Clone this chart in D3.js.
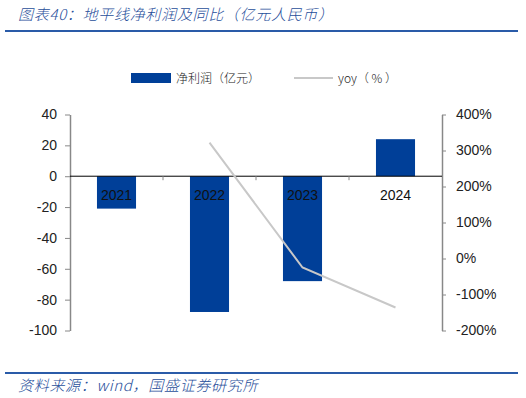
<!DOCTYPE html>
<html><head><meta charset="utf-8">
<script src="https://cdn.jsdelivr.net/npm/d3@7"></script>
<style>body{margin:0;background:#fff}svg{display:block}</style>
</head><body><svg id="c" width="526" height="398"></svg>
<script>
const categories = ["2021","2022","2023","2024"];
const netProfit = [-21, -88, -68, 24];
const yoy = [null, 322, -25, -136];
const leftTicks = [40,20,0,-20,-40,-60,-80,-100];
const rightTicks = [400,300,200,100,0,-100,-200];
const title = "图表40：地平线净利润及同比（亿元人民币）";
const source = "资料来源：wind，国盛证券研究所";
const legendLabels = ["净利润（亿元）","yoy（ % ）"];

const blue = "#003f98", grey = "#c8c8c8", dark = "#1f4e9a";
const svg = d3.select("#c");
const font = "'Liberation Sans', Arial, sans-serif";
const cjk = "'Noto Sans CJK SC', sans-serif";

const L = 70, R = 442, T = 114.5, B = 330.5;
const x = d3.scaleBand().domain(categories).range([L, R]).paddingInner(0.58).paddingOuter(0.29);
const xb = d3.scaleBand().domain(categories).range([L, R]);
const y = d3.scaleLinear().domain([-100, 40]).range([B, T]);
const y2 = d3.scaleLinear().domain([-200, 400]).range([B, T]);

// title
svg.append("text").attr("x", 18).attr("y", 20).attr("font-family", cjk).attr("font-size", 15)
  .attr("font-weight", 300).attr("letter-spacing", 0.7)
  .attr("font-style", "italic").attr("fill", dark).text(title);
svg.append("line").attr("x1", 5).attr("x2", 518).attr("y1", 31).attr("y2", 31).attr("stroke", "#2a5ba8").attr("stroke-width", 2);
svg.append("line").attr("x1", 5).attr("x2", 518).attr("y1", 373).attr("y2", 373).attr("stroke", "#2a5ba8").attr("stroke-width", 2);
svg.append("text").attr("x", 18).attr("y", 391).attr("font-family", cjk).attr("font-size", 15)
  .attr("font-weight", 300).attr("letter-spacing", 0.7)
  .attr("font-style", "italic").attr("fill", dark).text(source);

// legend
svg.append("rect").attr("x", 131).attr("y", 73).attr("width", 40).attr("height", 10).attr("fill", blue);
svg.append("text").attr("x", 176).attr("y", 83).attr("font-family", cjk).attr("font-size", 12).attr("font-weight", 300).attr("fill", "#222").text(legendLabels[0]);
svg.append("line").attr("x1", 294).attr("x2", 333).attr("y1", 78).attr("y2", 78).attr("stroke", grey).attr("stroke-width", 2);
svg.append("text").attr("x", 338).attr("y", 83).attr("font-family", cjk).attr("font-size", 12).attr("font-weight", 300).attr("fill", "#222").text(legendLabels[1]);

// bars
svg.append("g").selectAll("rect").data(categories).join("rect")
  .attr("x", d => x(d)).attr("width", x.bandwidth())
  .attr("y", (d, i) => y(Math.max(0, netProfit[i])))
  .attr("height", (d, i) => Math.abs(y(netProfit[i]) - y(0)))
  .attr("fill", blue);

// left axis
const la = svg.append("g").attr("transform", `translate(${L},0)`)
  .call(d3.axisLeft(y).tickValues(leftTicks).tickFormat(d => String(d)).tickSize(5).tickPadding(8).tickSizeOuter(0));
la.select(".domain").attr("stroke", "#888").attr("stroke-width", 1.5);
la.selectAll(".tick line").attr("stroke", "#888");
la.selectAll("text").attr("font-family", font).attr("font-size", 14).attr("fill", "#222");

// right axis
const ra = svg.append("g").attr("transform", `translate(${R},0)`)
  .call(d3.axisRight(y2).tickValues(rightTicks).tickFormat(d => String(d) + "%").tickSize(4).tickPadding(10).tickSizeOuter(0));
ra.select(".domain").attr("stroke", "#888").attr("stroke-width", 1.5);
ra.selectAll(".tick line").attr("stroke", "#888");
ra.selectAll("text").attr("font-family", font).attr("font-size", 14).attr("fill", "#222");

// zero axis
svg.append("line").attr("x1", L).attr("x2", R).attr("y1", y(0)).attr("y2", y(0)).attr("stroke", "#000").attr("stroke-width", 1);
svg.append("g").selectAll("line").data(categories.slice(1)).join("line")
  .attr("x1", d => xb(d)).attr("x2", d => xb(d)).attr("y1", y(0)).attr("y2", y(0) + 4)
  .attr("stroke", "#888");
svg.append("g").selectAll("text").data(categories).join("text")
  .attr("x", d => x(d) + x.bandwidth() / 2).attr("y", y(0) + 24)
  .attr("text-anchor", "middle").attr("font-family", font).attr("font-size", 14).attr("fill", "#111")
  .text(d => d);

// yoy line
const pts = categories.map((c, i) => [c, yoy[i]]).filter(d => d[1] !== null);
svg.append("path").datum(pts)
  .attr("d", d3.line().x(d => x(d[0]) + x.bandwidth() / 2).y(d => y2(d[1])))
  .attr("fill", "none").attr("stroke", grey).attr("stroke-width", 2);
</script></body></html>
